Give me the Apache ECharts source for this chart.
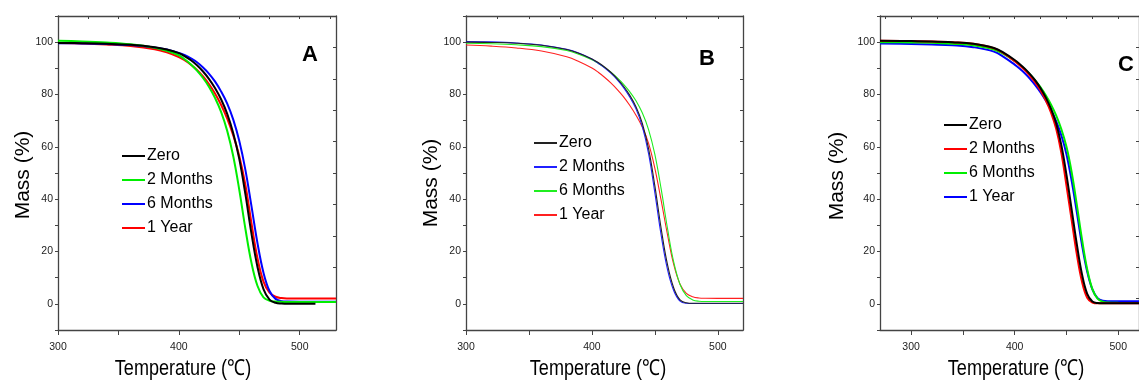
<!DOCTYPE html>
<html>
<head>
<meta charset="utf-8">
<script src="https://cdn.jsdelivr.net/npm/echarts@6/dist/echarts.min.js"></script>
<style>
html,body{margin:0;padding:0;background:#fff;}
#chart{width:1139px;height:381px;}
</style>
</head>
<body>
<div id="chart"></div>
<script>
// ---------- DATA ----------
// Panel A
const tempA     = [300,320,340,360,380,390,400,405,410,415,420,425,430,435,440,445,450,455,460,465,470,475,480,485,490,500,510,530];
const tempAZero = [300,320,340,360,380,390,400,405,410,415,420,425,430,435,440,445,450,455,460,465,470,475,480,485,490,500,510,513];
const zeroA    = [99.7,99.6,99.4,99.0,98.1,97.2, 95.8,94.6,93.1,91.2,88.8,85.9,82.4,78.1,72.6,65.2,55.3,42.0,27.0,14.2,5.6,1.6,0.4,0.1,0, 0,0,0];
const months2A = [100.5,100.3,99.9,99.2,97.9,96.7, 95.0,93.4,91.5,89.1,86.3,82.9,78.6,73.3,66.1,56.4,43.5,28.8,15.8,6.9,2.5,1.2,0.85,0.75,0.7, 0.7,0.7,0.7];
const months6A = [99.6,99.5,99.3,98.9,98.0,97.2, 95.9,95.0,93.8,92.3,90.3,87.9,84.9,81.1,76.5,70.4,62.2,51.3,37.5,23.3,11.9,4.9,1.9,1.0,0.85, 0.8,0.8,0.8];
const year1A   = [99.7,99.5,99.1,98.5,97.3,96.1, 94.3,93.0,91.4,89.4,86.9,83.9,80.3,76.0,70.8,64.4,56.4,45.5,31.0,17.5,8.5,4.3,2.7,2.2,2.05, 2,2,2];

// Panel B
const tempB = [300,320,340,360,380,390,400,405,410,415,420,425,430,435,440,445,450,455,460,465,470,475,480,485,490,500,520];
const zeroB    = [100,99.9,99.6,98.8,97.2,95.7, 93.6,92.2,90.5,88.5,86.1,83.25,79.75,75.3,69.05,59.3,45.05,28.8,15.05,6.05,1.5,0.4,0.2,0.2,0.2, 0.2,0.2];
const months2B = [100.2,100.1,99.7,98.9,97.3,95.8, 93.6,91.95,90.2,88.15,85.7,82.75,79.1,74.5,67.85,57.4,42.4,26.2,13.2,5.0,1.0,0.2,0.1,0.1,0.1, 0.1,0.1];
const months6B = [99.6,99.4,99.0,98.3,96.8,95.3, 93.3,91.9,90.35,88.55,86.45,84.0,81.1,77.6,73.0,66.6,57.1,43.9,28.9,15.9,7.4,3.1,1.5,1.0,0.9, 0.9,0.9];
const year1B   = [98.9,98.5,97.8,96.6,94.4,92.5, 90.1,88.5,86.6,84.45,82.0,79.2,75.9,72.1,67.55,61.3,51.8,39.5,26.5,15.0,7.5,4.0,2.7,2.25,2.15, 2.1,2.1];

// Panel C
const tempC = [270,300,320,340,360,380,390,400,405,410,415,420,425,430,435,440,445,450,455,460,465,470,475,480,485,490,500,520];
const zeroC    = [100.5,100.4,100.3,100.0,99.4,97.8,95.8, 93.2,91.6,89.8,87.7,85.3,82.4,78.9,74.6,69.0,60.75,49.25,36.0,22.75,11.25,3.8,0.9,0.3,0.2,0.2, 0.2,0.2];
const months2C = [100.5,100.4,100.3,100.0,99.4,97.7,95.6, 92.7,91.1,89.2,87.0,84.5,81.5,77.8,73.2,67.0,57.8,45.2,32.0,18.9,8.4,2.3,0.5,0.2,0.2,0.2, 0.2,0.2];
const months6C = [100.0,99.9,99.8,99.4,98.8,97.2,95.3, 92.8,91.3,89.6,87.6,85.3,82.7,79.7,76.2,72.0,66.8,60.0,50.3,37.8,24.6,13.2,5.6,2.0,0.8,0.5, 0.4,0.3];
const year1C   = [99.5,99.3,99.1,98.8,98.1,96.4,94.2, 91.4,89.8,88.0,85.9,83.5,80.8,77.7,74.1,69.8,64.4,57.2,47.0,35.0,22.5,12.3,5.5,2.2,1.2,1.0, 1.0,1.0];

// Tick labels
const xLabels = [300,400,500];
const xTicks = [300,350,400,450,500];
const yLabels = [0,20,40,60,80,100];
const yTicks = [-10,0,10,20,30,40,50,60,70,80,90,100,110];
const rightTicks = [2,14,26,38,50,62,74,86,98];
const seriesNames = ['Zero','2 Months','6 Months','1 Year'];

// ---------- CHART ----------
const SANS = "'Liberation Sans',Arial,sans-serif";
const AX = '#444';

const panels = [
  {key:'A', left:58,  width:278, xmin:300, xmax:530, legendLeft:122, legendTop:148, lw:2,
   series:[[tempAZero,zeroA,'#000000'],[tempA,months2A,'#00ee00'],[tempA,months6A,'#0000ff'],[tempA,year1A,'#ff0000']]},
  {key:'B', left:466, width:277, xmin:300, xmax:520, legendLeft:534, legendTop:135, lw:1.1,
   series:[[tempB,zeroB,'#222222'],[tempB,months2B,'#2020ff'],[tempB,months6B,'#20ee20'],[tempB,year1B,'#ff2020']]},
  {key:'C', left:880, width:260, xmin:270, xmax:520, legendLeft:944, legendTop:117, lw:2,
   series:[[tempC,zeroC,'#000000'],[tempC,months2C,'#ff0000'],[tempC,months6C,'#00ee00'],[tempC,year1C,'#0000ff']]}
];

const grid=[], xAxis=[], yAxis=[], series=[], legend=[];
panels.forEach((p,i)=>{
  grid.push({left:p.left, top:16, width:p.width, height:314, containLabel:false});
  const topTicks=[]; for(let t=Math.ceil(p.xmin/25)*25;t<p.xmax;t+=25) topTicks.push(t);
  xAxis.push({type:'value', gridIndex:i, min:p.xmin, max:p.xmax, position:'bottom',
    axisLine:{show:true,onZero:false,lineStyle:{color:AX,width:1.3}},
    axisTick:{show:true,inside:false,length:5,customValues:xTicks,lineStyle:{color:AX,width:1}},
    axisLabel:{show:true,customValues:xLabels,margin:12,fontSize:10.5,fontFamily:SANS,color:'#222'},
    splitLine:{show:false}});
  xAxis.push({type:'value', gridIndex:i, min:p.xmin, max:p.xmax, position:'top',
    axisLine:{show:true,onZero:false,lineStyle:{color:AX,width:1.3}},
    axisTick:{show:true,inside:true,length:3,customValues:topTicks,lineStyle:{color:AX,width:1}},
    axisLabel:{show:false}, splitLine:{show:false}});
  yAxis.push({type:'value', gridIndex:i, min:-10, max:110, position:'left',
    axisLine:{show:true,onZero:false,lineStyle:{color:AX,width:1.3}},
    axisTick:{show:true,inside:false,length:3,customValues:yTicks,lineStyle:{color:AX,width:1}},
    axisLabel:{show:true,customValues:yLabels,margin:5,fontSize:10.5,fontFamily:SANS,color:'#222'},
    splitLine:{show:false}});
  yAxis.push({type:'value', gridIndex:i, min:-10, max:110, position:'right',
    axisLine:{show:true,onZero:false,lineStyle:{color:AX,width:1.3}},
    axisTick:{show:true,inside:true,length:3,customValues:rightTicks,lineStyle:{color:AX,width:1}},
    axisLabel:{show:false}, splitLine:{show:false}});
  const names=[];
  p.series.forEach((s,j)=>{
    const nm = p.key+':'+seriesNames[j];
    names.push(nm);
    series.push({type:'line', name:nm, xAxisIndex:2*i, yAxisIndex:2*i,
      data:s[0].map((t,k)=>[t,s[1][k]]), smooth:0.4, symbol:'none',
      lineStyle:{color:s[2],width:p.lw}, itemStyle:{color:s[2]}, z:10-j, animation:false, clip:true});
  });
  legend.push({data:names, orient:'vertical', left:p.legendLeft, top:p.legendTop, padding:0,
    itemWidth:23, itemHeight:14, itemGap:8, icon:'path://M0,6 L23,6 L23,8 L0,8 Z',
    formatter:n=>n.split(':')[1],
    textStyle:{fontSize:16,fontFamily:SANS,color:'#000',padding:[0,0,0,-3]},
    selectedMode:false});
});

function label(x,y,t,font,rot,sx){
  return {type:'text',x:x,y:y,rotation:rot||0,scaleX:sx||1,
    style:{text:t,font:font,fill:'#000',textAlign:'center',textVerticalAlign:'middle'}};
}
const graphic=[
  label(310,55,'A','bold 22px '+SANS),
  label(707,59,'B','bold 22px '+SANS),
  label(1126,65,'C','bold 22px '+SANS),
  label(23,175,'Mass (%)','21px '+SANS,Math.PI/2),
  label(431,183,'Mass (%)','21px '+SANS,Math.PI/2),
  label(837,176,'Mass (%)','21px '+SANS,Math.PI/2),
  label(183,369,'Temperature (℃)','22px '+SANS,0,0.82),
  label(598,369,'Temperature (℃)','22px '+SANS,0,0.82),
  label(1016,369,'Temperature (℃)','22px '+SANS,0,0.82)
];

const chart = echarts.init(document.getElementById('chart'), null, {renderer:'canvas'});
chart.setOption({backgroundColor:'#fff', animation:false, grid, xAxis, yAxis, series, legend, graphic});
</script>
</body>
</html>
